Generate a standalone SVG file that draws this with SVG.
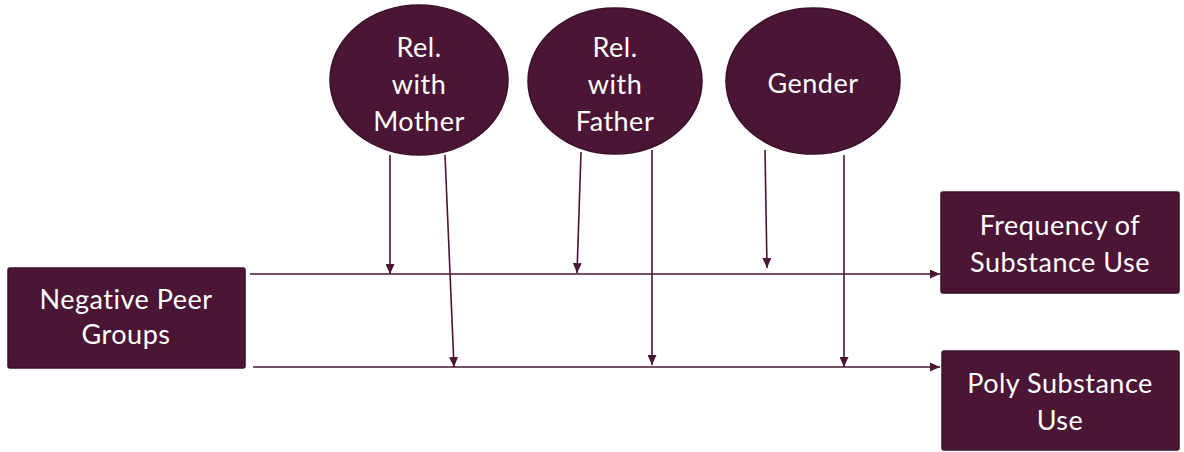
<svg xmlns="http://www.w3.org/2000/svg" width="1184" height="452" viewBox="0 0 1184 452">
<style>
.n{fill:#4b1535;stroke:#3a0f29;stroke-width:1.5}
.t{font-family:Lato,"Open Sans",sans-serif;font-size:27px;letter-spacing:0.5px;fill:#ffffff;text-anchor:middle;font-variant-ligatures:none}
.c{stroke:#4b1535;stroke-width:1.6;fill:none}
</style>
<defs>
<marker id="a" viewBox="0 0 10 10" refX="10" refY="5" markerWidth="10" markerHeight="9" markerUnits="userSpaceOnUse" orient="auto" preserveAspectRatio="none">
<path d="M0,0 L10,5 L0,10 Z" fill="#4b1535"/>
</marker>
</defs>
<rect width="1184" height="452" fill="#ffffff"/>
<g id="connectors">
<line class="c" x1="250" y1="274" x2="940" y2="274" marker-end="url(#a)"/>
<line class="c" x1="253" y1="367" x2="940" y2="367" marker-end="url(#a)"/>
<line class="c" x1="390" y1="155" x2="390" y2="274" marker-end="url(#a)"/>
<line class="c" x1="445" y1="155" x2="454" y2="367" marker-end="url(#a)"/>
<line class="c" x1="581" y1="152" x2="577" y2="273" marker-end="url(#a)"/>
<line class="c" x1="652" y1="150" x2="652" y2="365" marker-end="url(#a)"/>
<line class="c" x1="765" y1="150" x2="767" y2="268" marker-end="url(#a)"/>
<line class="c" x1="844" y1="155" x2="844" y2="367" marker-end="url(#a)"/>
</g>
<g id="neg-peer">
<rect class="n" x="8" y="268" width="237" height="100" rx="2"/>
<text class="t" x="126" y="309">Negative Peer</text>
<text class="t" x="126" y="344">Groups</text>
</g>
<g id="mother">
<ellipse class="n" cx="419" cy="80" rx="89" ry="75"/>
<text class="t" x="419" y="57">Rel.</text>
<text class="t" x="419" y="94">with</text>
<text class="t" x="419" y="131">Mother</text>
</g>
<g id="father">
<ellipse class="n" cx="615" cy="81" rx="87" ry="73"/>
<text class="t" x="615" y="57">Rel.</text>
<text class="t" x="615" y="94">with</text>
<text class="t" x="615" y="131">Father</text>
</g>
<g id="gender">
<ellipse class="n" cx="813" cy="81" rx="87" ry="73"/>
<text class="t" x="813" y="93">Gender</text>
</g>
<g id="frequency">
<rect class="n" x="941" y="192" width="238" height="101" rx="2"/>
<text class="t" x="1060" y="235">Frequency of</text>
<text class="t" x="1060" y="272">Substance Use</text>
</g>
<g id="poly">
<rect class="n" x="942" y="351" width="237" height="99" rx="2"/>
<text class="t" x="1060" y="393">Poly Substance</text>
<text class="t" x="1060" y="430">Use</text>
</g>
</svg>
